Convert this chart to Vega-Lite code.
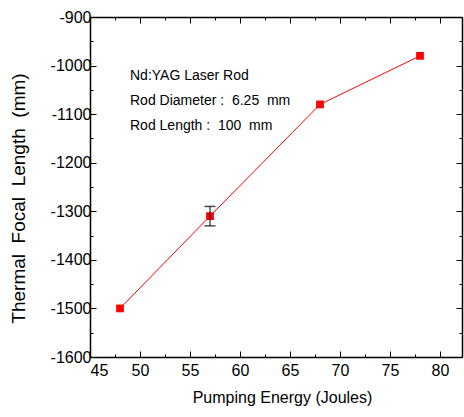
{
  "$schema": "https://vega.github.io/schema/vega-lite/v6.json",
  "autosize": "none",
  "width": 372,
  "height": 340,
  "padding": {"left": 90, "top": 17, "right": 2, "bottom": 60},
  "background": "white",
  "config": {
    "view": {"stroke": null},
    "font": "Liberation Sans",
    "axis": {
      "domainColor": "black",
      "domainWidth": 1.5,
      "tickColor": "black",
      "tickWidth": 1,
      "grid": false,
      "labelColor": "black",
      "labelFont": "Liberation Sans",
      "labelFontSize": 16,
      "titleColor": "black",
      "titleFont": "Liberation Sans",
      "titleFontWeight": "normal"
    }
  },
  "datasets": {
    "pts": [
      {"energy": 48, "focal": -1500},
      {"energy": 57, "focal": -1310},
      {"energy": 68, "focal": -1080},
      {"energy": 78, "focal": -980}
    ],
    "err": [
      {"energy": 57, "lo": -1330, "hi": -1290}
    ],
    "notes": [
      {"tx": 49, "ty": -1030, "label": "Nd:YAG Laser Rod"},
      {"tx": 49, "ty": -1081, "label": "Rod Diameter :\u00a0\u00a06.25\u00a0\u00a0mm"},
      {"tx": 49, "ty": -1133, "label": "Rod Length :\u00a0\u00a0100\u00a0\u00a0mm"}
    ]
  },
  "resolve": {"axis": {"x": "independent", "y": "independent"}},
  "layer": [
    {
      "data": {"name": "pts"},
      "mark": {"type": "line", "color": "#ff0000", "strokeWidth": 1,
               "point": {"shape": "square", "size": 60, "filled": true, "color": "#ff0000", "opacity": 1}},
      "encoding": {
        "x": {"field": "energy", "type": "quantitative",
              "scale": {"domain": [45, 82.2], "nice": false, "zero": false},
              "axis": {"orient": "bottom", "title": "Pumping Energy (Joules)",
                       "titleFontSize": 16, "titlePadding": 11, "titleX": 192,
                       "values": [45, 47.5, 50, 52.5, 55, 57.5, 60, 62.5, 65, 67.5, 70, 72.5, 75, 77.5, 80],
                       "labelExpr": "datum.value % 5 == 0 ? '' + datum.value : ''",
                       "tickSize": {"condition": {"test": "datum.value % 5 == 0", "value": -6}, "value": -3},
                       "labelPadding": 11}},
        "y": {"field": "focal", "type": "quantitative",
              "scale": {"domain": [-1600, -900], "nice": false, "zero": false},
              "axis": {"orient": "left", "title": "Thermal\u00a0\u00a0Focal\u00a0\u00a0Length\u00a0\u00a0(mm)",
                       "titleFontSize": 19, "titlePadding": 22, "titleY": 181,
                       "values": [-1600, -1550, -1500, -1450, -1400, -1350, -1300, -1250, -1200, -1150, -1100, -1050, -1000, -950, -900],
                       "labelExpr": "datum.value % 100 == 0 ? '' + datum.value : ''",
                       "tickSize": {"condition": {"test": "datum.value % 100 == 0", "value": -6}, "value": -3},
                       "labelPadding": 5}}
      }
    },
    {
      "data": {"name": "err"},
      "mark": {"type": "rule", "color": "black", "strokeWidth": 1},
      "encoding": {
        "x": {"field": "energy", "type": "quantitative",
              "axis": {"orient": "top", "title": null, "labels": false,
                       "values": [45, 47.5, 50, 52.5, 55, 57.5, 60, 62.5, 65, 67.5, 70, 72.5, 75, 77.5, 80],
                       "tickSize": {"condition": {"test": "datum.value % 5 == 0", "value": -6}, "value": -3}}},
        "y": {"field": "lo", "type": "quantitative",
              "axis": {"orient": "right", "title": null, "labels": false,
                       "values": [-1600, -1550, -1500, -1450, -1400, -1350, -1300, -1250, -1200, -1150, -1100, -1050, -1000, -950, -900],
                       "tickSize": {"condition": {"test": "datum.value % 100 == 0", "value": -6}, "value": -3}}},
        "y2": {"field": "hi"}
      }
    },
    {
      "data": {"name": "err"},
      "mark": {"type": "tick", "orient": "horizontal", "color": "black", "size": 11, "thickness": 1.5},
      "encoding": {
        "x": {"field": "energy", "type": "quantitative", "axis": null},
        "y": {"field": "lo", "type": "quantitative", "axis": null}
      }
    },
    {
      "data": {"name": "err"},
      "mark": {"type": "tick", "orient": "horizontal", "color": "black", "size": 11, "thickness": 1.5},
      "encoding": {
        "x": {"field": "energy", "type": "quantitative", "axis": null},
        "y": {"field": "hi", "type": "quantitative", "axis": null}
      }
    },
    {
      "data": {"name": "notes"},
      "mark": {"type": "text", "align": "left", "baseline": "alphabetic", "fontSize": 14, "color": "black", "font": "Liberation Sans"},
      "encoding": {
        "x": {"field": "tx", "type": "quantitative", "axis": null},
        "y": {"field": "ty", "type": "quantitative", "axis": null},
        "text": {"field": "label"}
      }
    }
  ]
}
